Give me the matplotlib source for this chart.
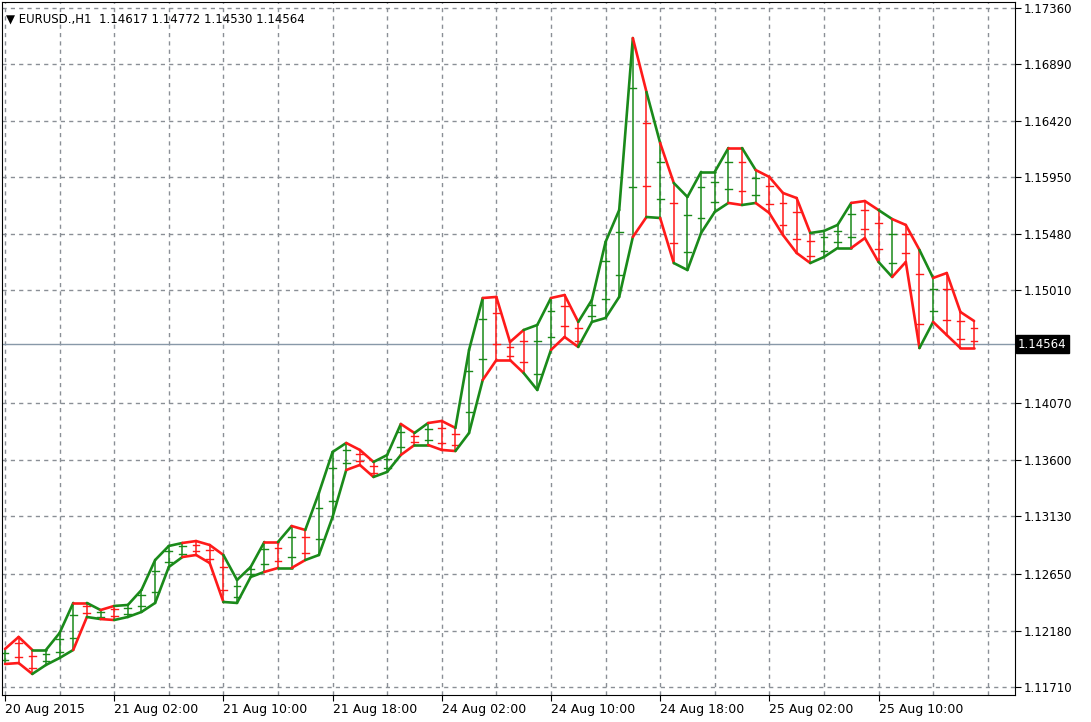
import matplotlib
matplotlib.use("Agg")
import matplotlib.pyplot as plt
import numpy as np

upper = [1.12027,1.12127,1.12019,1.12019,1.12160,1.12410,1.12410,1.12351,1.12385,1.12393,
         1.12518,1.12767,1.12884,1.12909,1.12925,1.12892,1.12809,1.12601,1.12709,1.12917,
         1.12917,1.13050,1.13017,1.13325,1.13666,1.13741,1.13683,1.13583,1.13641,1.13899,
         1.13824,1.13907,1.13924,1.13866,1.14515,1.14947,1.14956,1.14581,1.14681,1.14723,
         1.14947,1.14972,1.14748,1.14931,1.15413,1.15679,1.17110,1.16661,1.16237,1.15904,
         1.15788,1.15996,1.15996,1.16195,1.16195,1.16012,1.15954,1.15821,1.15779,1.15488,
         1.15505,1.15555,1.15738,1.15754,1.15679,1.15604,1.15555,1.15347,1.15114,1.15155,
         1.14831,1.14756]
lower = [1.11902,1.11910,1.11819,1.11894,1.11952,1.12019,1.12293,1.12276,1.12268,1.12293,
         1.12335,1.12410,1.12709,1.12792,1.12809,1.12742,1.12418,1.12410,1.12626,1.12668,
         1.12701,1.12701,1.12767,1.12809,1.13125,1.13516,1.13558,1.13458,1.13500,1.13641,
         1.13724,1.13724,1.13683,1.13674,1.13824,1.14265,1.14431,1.14431,1.14323,1.14182,
         1.14515,1.14623,1.14540,1.14748,1.14781,1.14956,1.15455,1.15621,1.15613,1.15238,
         1.15180,1.15488,1.15663,1.15738,1.15721,1.15738,1.15654,1.15471,1.15322,1.15238,
         1.15288,1.15363,1.15363,1.15446,1.15247,1.15122,1.15247,1.14531,1.14748,1.14639,
         1.14531,1.14531]
colors = list("grrgggrgrgggggrrrgggrgrgggrrggrgrrggrrrggrrggggrgrggggrgrrrrgggrrgrrgrrr")[:72]

price_ticks = [1.11710,1.12180,1.12650,1.13130,1.13600,1.14070,1.15010,1.15480,1.15950,1.16420,1.16890,1.17360]
time_labels = ["20 Aug 2015","21 Aug 02:00","21 Aug 10:00","21 Aug 18:00","24 Aug 02:00",
               "24 Aug 10:00","24 Aug 18:00","25 Aug 02:00","25 Aug 10:00"]
last_price = 1.14564
title = "EURUSD.,H1  1.14617 1.14772 1.14530 1.14564"

GREEN = "#1a8a1a"
RED = "#ff1a1a"
cmap = {"g": GREEN, "r": RED}

fig = plt.figure(figsize=(10.91, 7.22), dpi=100)
ax = fig.add_axes([2/1091, 1-695/722, 1013/1091, 693/722])
ax.set_xlim(-0.22, 74.0)
ax.set_ylim(1.11644, 1.17410)

grid_c = "#8a8f96"
for p in price_ticks:
    ax.axhline(p, color=grid_c, ls=(0, (3, 3)), lw=1, zorder=0)
for gx in range(0, 76, 4):
    ax.axvline(gx, color=grid_c, ls=(0, (3, 3)), lw=1, zorder=0)
ax.axhline(last_price, color="#8898a8", lw=1, zorder=1)

for i in range(len(upper)):
    c = cmap[colors[i]]
    ax.plot([i, i], [lower[i], upper[i]], color=c, lw=1.1, zorder=2)
    r = upper[i] - lower[i]
    for f in (0.25, 0.75):
        ax.plot([i - 0.25, i + 0.25], [lower[i] + f * r] * 2, color=c, lw=1, zorder=2)
    if i > 0:
        ax.plot([i - 1, i], [upper[i - 1], upper[i]], color=c, lw=1.9, zorder=3, solid_capstyle="round")
        ax.plot([i - 1, i], [lower[i - 1], lower[i]], color=c, lw=1.9, zorder=3, solid_capstyle="round")

ax.yaxis.tick_right()
ax.set_yticks(price_ticks)
ax.set_yticklabels([f"{p:.5f}" for p in price_ticks], fontsize=8.5)
ax.set_xticks([8 * k for k in range(len(time_labels))])
ax.set_xticklabels(time_labels, fontsize=9, ha="left")
ax.tick_params(axis="both", length=4, color="black", pad=2)
for s in ax.spines.values():
    s.set_color("black")

ax.text(1.003, (last_price - 1.11644) / (1.17410 - 1.11644), f"{last_price:.5f}",
        transform=ax.transAxes, fontsize=8.5, color="white", va="center", ha="left",
        bbox=dict(facecolor="black", edgecolor="black", pad=1.5))
ax.text(0.004, 0.985, "\u25bc " + title, transform=ax.transAxes, fontsize=8.5, va="top", ha="left")

fig.savefig("out.png", dpi=100)
